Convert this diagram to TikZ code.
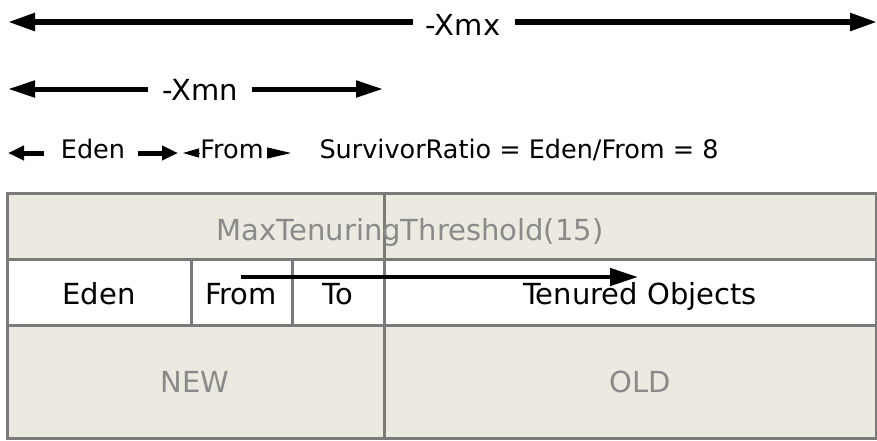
\documentclass[tikz,border=0pt]{standalone}
\usepackage{fontspec}
\setmainfont{DejaVu Sans}
\usetikzlibrary{arrows.meta}
\definecolor{beige}{HTML}{ECE9E0}
\definecolor{gridgray}{HTML}{7A7A7A}
\definecolor{txtgray}{HTML}{8A8A8A}
\begin{document}
\begin{tikzpicture}[x=1pt,y=-1pt,
  big/.style={line width=5.5pt,-{Triangle[length=27pt,width=17pt]}},
  mid/.style={line width=5pt,-{Triangle[length=27pt,width=16pt]}},
  small/.style={line width=5pt,-{Triangle[length=16pt,width=14pt]}},
  inner/.style={line width=4.5pt,-{Triangle[length=28pt,width=17pt]}},
  lbl/.style={anchor=base,inner sep=0pt,font=\fontsize{29}{33}\selectfont},
  slbl/.style={anchor=base,inner sep=0pt,font=\fontsize{25.5}{29}\selectfont},
  cell/.style={anchor=base,inner sep=0pt,font=\fontsize{29}{33}\selectfont},
  graytxt/.style={cell,text=txtgray},
  grid/.style={draw=gridgray,line width=3pt}]
\useasboundingbox (0,0) rectangle (877,440);
% header arrows
\node[lbl] (xmx) at (463,35) {-Xmx};
\coordinate (xmxL) at (8,22);
\coordinate (xmxR) at (877,22);
\coordinate (xmxa) at (413,22);
\coordinate (xmxb) at (515,22);
\draw[big] (xmxa) -- (xmxL);
\draw[big] (xmxb) -- (xmxR);
\node[lbl] (xmn) at (200,100) {-Xmn};
\coordinate (xmnL) at (8,89);
\coordinate (xmnR) at (383,89);
\coordinate (xmna) at (148,89);
\coordinate (xmnb) at (252,89);
\draw[mid] (xmna) -- (xmnL);
\draw[mid] (xmnb) -- (xmnR);
% third row
\node[slbl] (eden0) at (93,158) {Eden};
\node[slbl] (from0) at (232,158) {From};
\node[slbl] (ratio) at (519,158) {SurvivorRatio = Eden/From = 8};
\coordinate (e1) at (44,153);
\coordinate (e2) at (8,153);
\coordinate (e3) at (138,153);
\coordinate (e4) at (178,153);
\coordinate (f1) at (199,153);
\coordinate (f2) at (183,153);
\coordinate (f3) at (267,153);
\coordinate (f4) at (291,153);
\draw[small] (e1) -- (e2);
\draw[small] (e3) -- (e4);
\draw[line width=1pt,-{Triangle[length=16pt,width=9pt]}] (f1) -- (f2);
\draw[line width=1pt,-{Triangle[length=24pt,width=11pt]}] (f3) -- (f4);
% table
\fill[beige] (7,193) rectangle (877,259);
\fill[white] (7,259) rectangle (877,325);
\fill[beige] (7,325) rectangle (877,440);
\draw[grid] (7,193) rectangle (876,438);
\draw[grid] (7,259) -- (876,259);
\draw[grid] (7,325) -- (876,325);
\draw[grid] (384,193) -- (384,438);
\draw[grid] (191,259) -- (191,325);
\draw[grid] (292,259) -- (292,325);
\node[graytxt] (mtt) at (410,240) {MaxTenuringThreshold(15)};
\node[cell] (eden) at (99,304) {Eden};
\node[cell] (from) at (241,304) {From};
\node[cell] (to) at (338,304) {To};
\node[cell] (ten) at (640,304) {Tenured Objects};
\node[graytxt] (new) at (195,392) {NEW};
\node[graytxt] (old) at (640,392) {OLD};
\coordinate (p1) at (241,277);
\coordinate (p2) at (638,277);
\draw[inner] (p1) -- (p2);
\end{tikzpicture}
\end{document}
